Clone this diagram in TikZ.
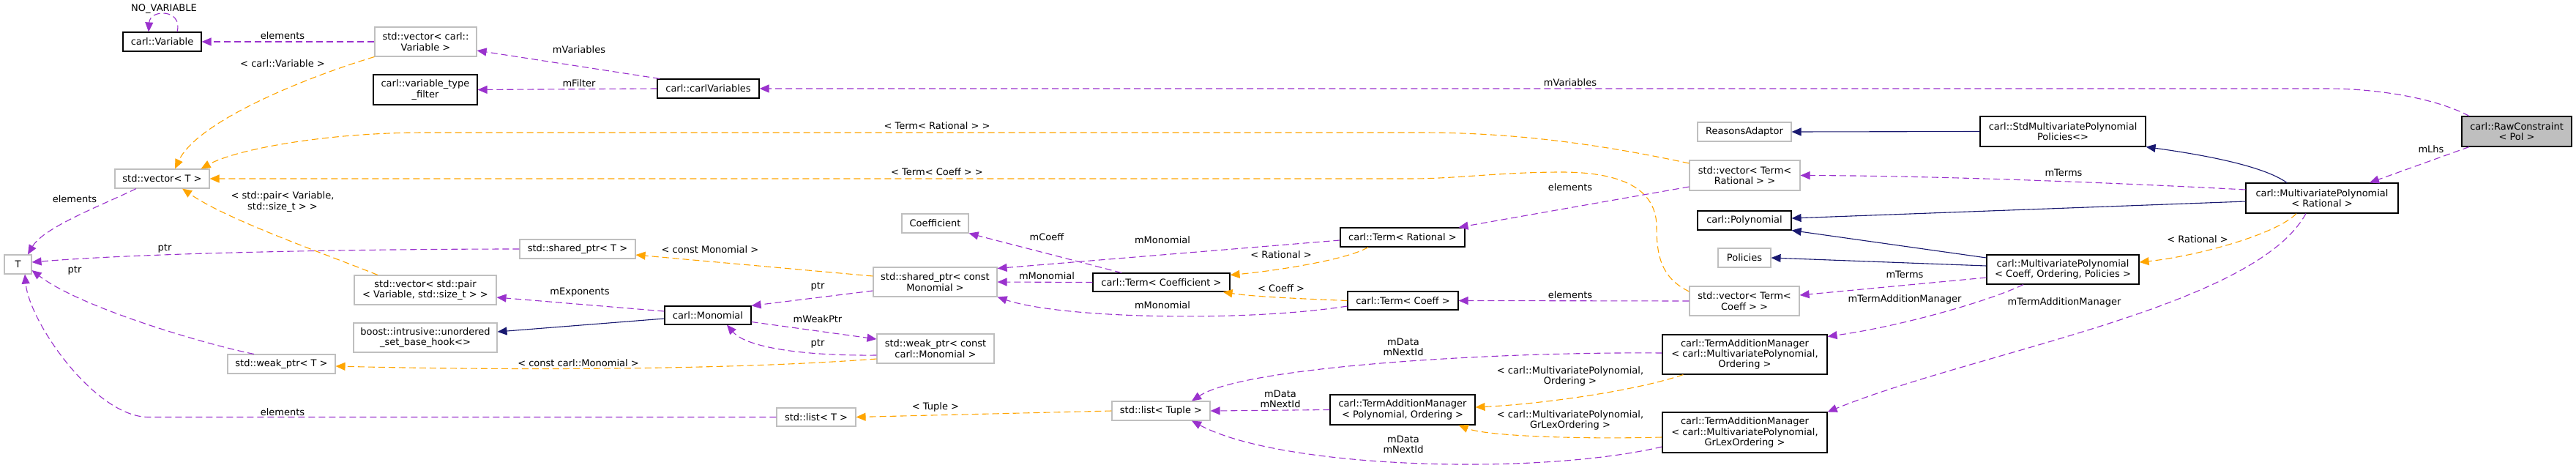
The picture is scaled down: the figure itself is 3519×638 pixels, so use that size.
\documentclass[tikz,border=0pt]{standalone}
\usepackage{fontspec}
\setmainfont{DejaVu Sans}
\usetikzlibrary{arrows.meta}
\definecolor{cpurple}{HTML}{9A32CD}
\definecolor{corange}{HTML}{FFA500}
\definecolor{cnavy}{HTML}{191970}
\definecolor{cgray}{HTML}{BFBFBF}
\newcommand\dxfont{\fontsize{13}{14.3}\selectfont}
\tikzset{
  nd/.style={draw=black, line width=1.1pt, fill=white, inner sep=0pt, align=center, font=\dxfont},
  gnd/.style={nd, draw=cgray},
  tipx/.style={-{Triangle[length=13pt,width=11pt]}},
  pe/.style={draw=cpurple, line width=1.1pt, dash pattern=on 9pt off 5pt, tipx},
  oe/.style={draw=corange, line width=1.1pt, dash pattern=on 9pt off 5pt, tipx},
  ie/.style={draw=cnavy, line width=1.1pt, tipx},
  lbl/.style={inner sep=0pt, font=\dxfont, align=center},
}
\begin{document}
\begin{tikzpicture}[x=1pt,y=-1pt]
\fill[white] (0,0) rectangle (3519,638);
\useasboundingbox (0,0) rectangle (3519,638);
% nodes
\node[nd, minimum width=107pt, minimum height=26pt] (var) at (221.5,57) {carl::Variable};
\node[gnd, minimum width=139pt, minimum height=40pt] (vecvar) at (581.5,57) {std::vector< carl::\\Variable >};
\node[nd, minimum width=142pt, minimum height=41pt] (vtf) at (581,122.5) {carl::variable\_type\\\_filter};
\node[nd, minimum width=139pt, minimum height=26pt] (cvars) at (967.5,121) {carl::carlVariables};
\node[gnd, minimum width=129pt, minimum height=26pt] (vecT) at (221.5,244) {std::vector< T >};
\node[gnd, minimum width=37pt, minimum height=26pt] (T) at (24.5,361) {T};
\node[gnd, minimum width=158pt, minimum height=26pt] (spT) at (789,340) {std::shared\_ptr< T >};
\node[gnd, minimum width=194pt, minimum height=40pt] (vecpair) at (581,396) {std::vector< std::pair\\< Variable, std::size\_t > >};
\node[nd, minimum width=118pt, minimum height=25pt] (mono) at (967,430.5) {carl::Monomial};
\node[gnd, minimum width=196pt, minimum height=40pt] (boost) at (581,461) {boost::intrusive::unordered\\\_set\_base\_hook<>};
\node[gnd, minimum width=147pt, minimum height=26pt] (wpT) at (384.5,497) {std::weak\_ptr< T >};
\node[gnd, minimum width=108pt, minimum height=25pt] (listT) at (1115,569.5) {std::list< T >};
\node[gnd, minimum width=91pt, minimum height=26pt] (coef) at (1277.5,305) {Coefficient};
\node[gnd, minimum width=169pt, minimum height=40pt] (spM) at (1277.5,385) {std::shared\_ptr< const\\Monomial >};
\node[gnd, minimum width=160pt, minimum height=40pt] (wpM) at (1278,476) {std::weak\_ptr< const\\carl::Monomial >};
\node[nd, minimum width=187pt, minimum height=25pt] (termCoef) at (1586.5,385.5) {carl::Term< Coefficient >};
\node[nd, minimum width=170pt, minimum height=26pt] (termRat) at (1916,324) {carl::Term< Rational >};
\node[nd, minimum width=151pt, minimum height=25pt] (termC) at (1916.5,410.5) {carl::Term< Coeff >};
\node[gnd, minimum width=134pt, minimum height=26pt] (listTup) at (1586,561) {std::list< Tuple >};
\node[nd, minimum width=198pt, minimum height=41pt] (tamPO) at (1916,559.5) {carl::TermAdditionManager\\< Polynomial, Ordering >};
\node[gnd, minimum width=151pt, minimum height=41pt] (vecTR) at (2383.5,239.5) {std::vector< Term<\\Rational > >};
\node[gnd, minimum width=150pt, minimum height=40pt] (vecTC) at (2383,411) {std::vector< Term<\\Coeff > >};
\node[nd, minimum width=225pt, minimum height=54pt] (tamO) at (2383.5,484) {carl::TermAdditionManager\\< carl::MultivariatePolynomial,\\Ordering >};
\node[nd, minimum width=225pt, minimum height=55pt] (tamG) at (2383.5,590.5) {carl::TermAdditionManager\\< carl::MultivariatePolynomial,\\GrLexOrdering >};
\node[gnd, minimum width=128pt, minimum height=26pt] (reasons) at (2383,180) {ReasonsAdaptor};
\node[nd, minimum width=226pt, minimum height=41pt] (stdpol) at (2818,179.5) {carl::StdMultivariatePolynomial\\Policies<>};
\node[nd, minimum width=128pt, minimum height=26pt] (poly) at (2383,301) {carl::Polynomial};
\node[gnd, minimum width=72pt, minimum height=26pt] (policies) at (2383,352) {Policies};
\node[nd, minimum width=208pt, minimum height=40pt] (mpC) at (2818,368) {carl::MultivariatePolynomial\\< Coeff, Ordering, Policies >};
\node[nd, minimum width=208pt, minimum height=41pt] (mpR) at (3172,270.5) {carl::MultivariatePolynomial\\< Rational >};
\node[nd, fill=cgray, minimum width=150pt, minimum height=41pt] (raw) at (3438,179.5) {carl::RawConstraint\\< Pol >};
% edges
\draw[pe] ([xshift=20.5pt]var.north) .. controls (250,12) and (205,12) .. ([xshift=-18.5pt]var.north);
\draw[pe] (vecvar.west) -- (var.east);
\draw[pe] ([xshift=-66.5pt]cvars.north) -- ([yshift=-12pt]vecvar.east);
\draw[pe] (cvars.west) -- (vtf.east);
\draw[pe] ([xshift=-65pt]raw.north) .. controls (3330,135) and (3250,121) .. (3180,121) -- (cvars.east);
\draw[oe] (vecvar.south west) .. controls (420,105) and (270,165) .. ([xshift=17.5pt]vecT.north);
\draw[oe] ([yshift=16.5pt]vecTR.west) .. controls (2200,200) and (2080,181) .. (1942,181) -- (582,181) .. controls (440,181) and (320,205) .. ([xshift=-12pt]vecT.north east);
\draw[oe] ([yshift=13pt]vecTC.west) .. controls (2270,380) and (2263,350) .. (2263,310) .. controls (2263,250) and (2200,235) .. (2133,235) .. controls (2050,235) and (1990,244) .. (1927,244) -- (vecT.east);
\draw[oe] ([xshift=-65pt]vecpair.north) .. controls (440,345) and (310,300) .. ([xshift=27.5pt]vecT.south);
\draw[pe] ([xshift=-35.5pt]vecT.south) .. controls (140,280) and (60,310) .. ([xshift=13.5pt]T.north);
\draw[pe] (spT.west) .. controls (500,340) and (200,345) .. ([yshift=3pt]T.east);
\draw[pe] ([xshift=-37.5pt]wpT.north) .. controls (280,470) and (110,420) .. ([yshift=-8pt]T.east);
\draw[pe] (listT.west) -- (203,569.5) .. controls (130,569.5) and (40,440) .. ([xshift=9.5pt]T.south);
\draw[oe] ([yshift=8pt]spM.west) -- ([yshift=-8pt]spT.east);
\draw[pe] ([yshift=5.5pt]mono.west) -- ([yshift=-10pt]vecpair.east);
\draw[ie] ([yshift=-4.5pt]mono.west) -- ([yshift=8pt]boost.east);
\draw[oe] ([yshift=-14pt]wpM.west) .. controls (1000,505) and (700,506) .. ([yshift=-3pt]wpT.east);
\draw[pe] ([yshift=-12pt]spM.west) -- (mono.north east);
\draw[pe] ([yshift=-9pt]mono.east) -- ([yshift=13pt]wpM.west);
\draw[pe] ([yshift=-9pt]wpM.west) .. controls (1100,486) and (1020,475) .. ([xshift=26pt]mono.south);
\draw[pe] ([yshift=-4pt]termRat.west) -- ([yshift=-2pt]spM.north east);
\draw[pe] (termCoef.west) -- (spM.east);
\draw[pe] ([yshift=-7.5pt]termC.west) .. controls (1700,440) and (1450,435) .. (spM.south east);
\draw[pe] ([xshift=-54.5pt]termCoef.north) -- (coef.south east);
\draw[oe] ([xshift=-47pt]termRat.south) .. controls (1840,355) and (1740,370) .. ([yshift=10pt]termCoef.east);
\draw[oe] (termC.west) .. controls (1780,408) and (1710,405) .. ([xshift=-10pt]termCoef.south east);
\draw[pe] ([yshift=-15.5pt]vecTR.west) -- ([xshift=-9pt]termRat.north east);
\draw[pe] (vecTC.west) -- (termC.east);
\draw[oe] (listTup.west) -- (listT.east);
\draw[pe] (tamPO.west) -- (listTup.east);
\draw[pe] ([yshift=2pt]tamO.west) .. controls (2050,480) and (1700,500) .. ([xshift=42pt]listTup.north);
\draw[pe] ([yshift=-19.5pt]tamG.west) .. controls (2100,650) and (1750,640) .. ([xshift=42pt]listTup.south);
\draw[oe] ([xshift=29pt]tamO.south west) .. controls (2230,535) and (2100,552) .. ([yshift=3.5pt]tamPO.east);
\draw[oe] ([yshift=-6.5pt]tamG.west) .. controls (2150,600) and (2030,595) .. ([xshift=-23pt]tamPO.south east);
\draw[ie] (stdpol.west) -- (reasons.east);
\draw[ie] ([xshift=-48pt]mpR.north) .. controls (3090,225) and (3000,210) .. (stdpol.south east);
\draw[pe] ([yshift=11.5pt]mpR.west) .. controls (2900,250) and (2650,240) .. (vecTR.east);
\draw[ie] ([yshift=-4.5pt]mpR.west) -- ([yshift=3pt]poly.east);
\draw[ie] ([yshift=16pt]mpC.west) -- (poly.south east);
\draw[ie] ([yshift=5pt]mpC.west) -- (policies.east);
\draw[oe] ([xshift=-35pt]mpR.south) .. controls (3110,320) and (3000,350) .. ([yshift=10pt]mpC.east);
\draw[pe] ([yshift=-11pt]mpC.west) -- ([yshift=8pt]vecTC.east);
\draw[pe] ([xshift=-54pt]mpC.south) .. controls (2720,410) and (2600,445) .. ([yshift=-3pt]tamO.north east);
\draw[pe] ([xshift=-22pt]mpR.south) .. controls (3080,420) and (2700,480) .. (tamG.north east);
\draw[pe] ([xshift=-65pt]raw.south) -- ([xshift=65pt]mpR.north);
% labels
\node[lbl] (l1) at (224,12) {NO\_VARIABLE};
\node[lbl] (l2) at (386,49) {elements};
\node[lbl] (l3) at (791,68) {mVariables};
\node[lbl] (l4) at (791,114) {mFilter};
\node[lbl] (l5) at (2145,113) {mVariables};
\node[lbl] (l6) at (386,87) {< carl::Variable >};
\node[lbl] (l7) at (1280,172) {< Term< Rational > >};
\node[lbl] (l8) at (1280,235) {< Term< Coeff > >};
\node[lbl] (l9) at (386,275.5) {< std::pair< Variable,\\std::size\_t > >};
\node[lbl] (l10) at (102,272) {elements};
\node[lbl] (l11) at (225,339) {ptr};
\node[lbl] (l12) at (102,369) {ptr};
\node[lbl] (l13) at (386,563) {elements};
\node[lbl] (l14) at (970,341) {< const Monomial >};
\node[lbl] (l15) at (792,399) {mExponents};
\node[lbl] (l17) at (790,496) {< const carl::Monomial >};
\node[lbl] (l18) at (1117,391) {ptr};
\node[lbl] (l19) at (1117,436) {mWeakPtr};
\node[lbl] (l20) at (1117,469) {ptr};
\node[lbl] (l21) at (1588,328) {mMonomial};
\node[lbl] (l22) at (1430,377) {mMonomial};
\node[lbl] (l23) at (1588,417) {mMonomial};
\node[lbl] (l24) at (1430,324) {mCoeff};
\node[lbl] (l25) at (1750,348) {< Rational >};
\node[lbl] (l26) at (1750,394) {< Coeff >};
\node[lbl] (l27) at (2145,256) {elements};
\node[lbl] (l28) at (2145,403) {elements};
\node[lbl] (l29) at (1278,556) {< Tuple >};
\node[lbl] (l30) at (1749,544.5) {mData\\mNextId};
\node[lbl] (l31) at (1917,474) {mData\\mNextId};
\node[lbl] (l32) at (1917,607) {mData\\mNextId};
\node[lbl] (l33) at (2145,514) {< carl::MultivariatePolynomial,\\Ordering >};
\node[lbl] (l34) at (2145,574) {< carl::MultivariatePolynomial,\\GrLexOrdering >};
\node[lbl] (l37) at (2819,236) {mTerms};
\node[lbl] (l41) at (3002,327) {< Rational >};
\node[lbl] (l42) at (2602,375) {mTerms};
\node[lbl] (l43) at (2602,409) {mTermAdditionManager};
\node[lbl] (l44) at (2820,413) {mTermAdditionManager};
\node[lbl] (l45) at (3321,204) {mLhs};
\end{tikzpicture}
\end{document}
